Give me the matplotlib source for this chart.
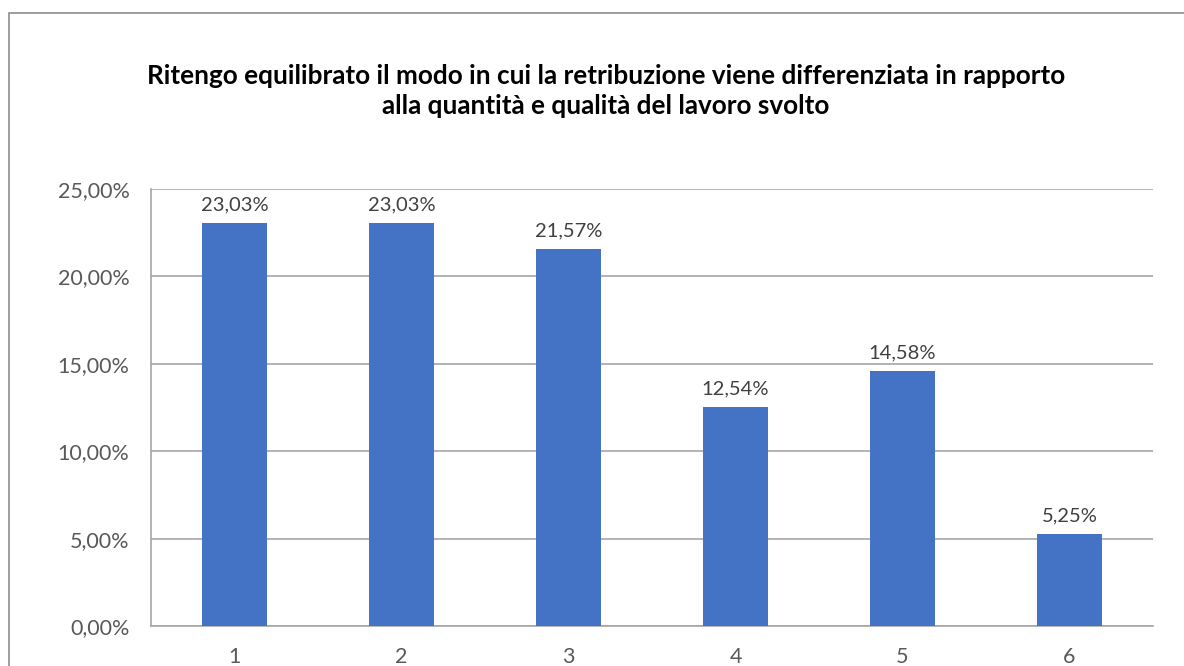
import matplotlib.pyplot as plt
from matplotlib.patches import Rectangle
from matplotlib.ticker import FuncFormatter

categories = ["1", "2", "3", "4", "5", "6"]
values = [23.03, 23.03, 21.57, 12.54, 14.58, 5.25]
title = ("Ritengo equilibrato il modo in cui la retribuzione viene differenziata in rapporto\n"
         "alla quantità e qualità del lavoro svolto")

BAR_COLOR = "#4472C4"
TEXT_COLOR = "#595959"
GRID_COLOR = "#A6A6A6"

plt.rcParams["font.family"] = ["Lato", "DejaVu Sans"]

W, H = 1184, 666
fig = plt.figure(figsize=(W / 100, H / 100), dpi=100)
fig.patch.set_facecolor("white")

# outer chart border (runs off the right and bottom of the picture)
fig.patches.append(Rectangle((9 / W, -0.1), 1.2, (H - 13) / H + 0.1,
                             transform=fig.transFigure, fill=False,
                             edgecolor="#8C8C8C", linewidth=1.2))

ax = fig.add_axes([151 / W, (H - 626) / H, (1153 - 151) / W, (626 - 189) / H])
x = range(len(categories))
bars = ax.bar(x, values, width=0.39, color=BAR_COLOR, zorder=3)

ax.set_xlim(-0.5, len(categories) - 0.5)
ax.set_ylim(0, 25)
ax.set_yticks([0, 5, 10, 15, 20, 25])
ax.yaxis.set_major_formatter(FuncFormatter(lambda v, p: f"{v:.2f}%".replace(".", ",")))
ax.set_xticks(list(x))
ax.set_xticklabels(categories)
ax.grid(axis="y", color=GRID_COLOR, linewidth=1.2, zorder=0)
ax.tick_params(length=0, labelsize=15.5, colors=TEXT_COLOR)
ax.tick_params(axis="y", pad=15.5)
ax.tick_params(axis="x", pad=15)

for side in ["top", "right"]:
    ax.spines[side].set_visible(False)
ax.spines["left"].set_color(GRID_COLOR)
ax.spines["bottom"].set_color(GRID_COLOR)
ax.spines["left"].set_linewidth(1.2)
ax.spines["bottom"].set_linewidth(1.2)

for rect, v in zip(bars, values):
    ax.annotate(f"{v:.2f}%".replace(".", ","),
                (rect.get_x() + rect.get_width() / 2, v),
                xytext=(0, 7), textcoords="offset points",
                ha="center", va="bottom", fontsize=14.5, color="#404040")

fig.text(606 / W, 1 - 91 / H, title, ha="center", va="center",
         fontsize=18.8, fontweight="bold", color="black", linespacing=1.25)

fig.savefig("out.png", dpi=100)
